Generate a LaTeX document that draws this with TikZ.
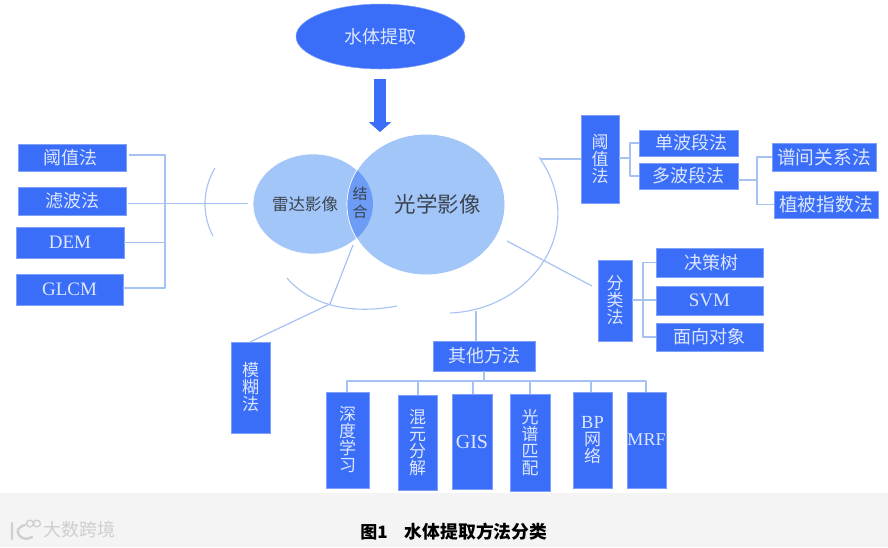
\documentclass[tikz,border=0pt]{standalone}
\usepackage{fontspec}
\setmainfont{Liberation Serif}
\newfontfamily\cjk{Noto Sans CJK SC}
\usetikzlibrary{arrows.meta,shapes.geometric}
\definecolor{boxblue}{HTML}{3A6DF8}
\definecolor{boxtext}{HTML}{DCE7FF}
\definecolor{linkblue}{HTML}{A6C2F2}
\definecolor{softblue}{HTML}{A3C6F9}
\definecolor{lensblue}{HTML}{6C9CF6}
\definecolor{band}{HTML}{F4F4F4}
\definecolor{darktext}{HTML}{3A4450}
\definecolor{markgray}{HTML}{CFCFCF}
\tikzset{
  bluebox/.style={fill=boxblue,draw=boxblue!65!white,line width=0.5pt,inner sep=0pt,text=boxtext,align=center,font=\cjk\fontsize{18}{19}\selectfont},
  tallbox/.style={bluebox,font=\cjk\fontsize{17}{17}\selectfont},
  latinbox/.style={bluebox,font=\fontsize{19}{17}\selectfont},
  conn/.style={draw=linkblue,line width=1.2pt,line join=round},
  softarc/.style={draw=linkblue,line width=1.1pt},
}
\newcommand{\bx}[7][bluebox]{%
  \pgfmathsetmacro{\bxw}{#5-#3}\pgfmathsetmacro{\bxh}{#6-#4}%
  \pgfmathsetmacro{\bxcx}{(#3+#5)/2}\pgfmathsetmacro{\bxcy}{(#4+#6)/2}%
  \node[#1,minimum width=\bxw pt,minimum height=\bxh pt] (#2) at (\bxcx,\bxcy) {#7};}
\newcommand{\up}[1]{\raisebox{1pt}{#1}}
\begin{document}
\begin{tikzpicture}[x=1pt,y=-1pt]
\useasboundingbox (0,0) rectangle (888,547);
\fill[white] (0,0) rectangle (888,547);
\fill[band] (0,493) rectangle (888,547);

% top
\node[ellipse,fill=boxblue,draw=boxblue!65!white,line width=0.5pt,minimum width=169pt,minimum height=65pt,inner sep=0pt,text=boxtext,font=\cjk\fontsize{18}{19}\selectfont] (top) at (380.5,36.5) {水体提取};
\coordinate (arS) at (380,79);
\coordinate (arE) at (380,132);
\draw[draw=boxblue,line width=12pt,-{Triangle[width=22pt,length=10pt]}] (arS) -- (arE);

% venn
\node[ellipse,fill=softblue,draw=white,line width=0.6pt,minimum width=120pt,minimum height=100pt,inner sep=0pt] (radar) at (313,204) {};
\node[ellipse,fill=softblue,draw=white,line width=0.6pt,minimum width=158pt,minimum height=141pt,inner sep=0pt] (optical) at (426,204.5) {};
\begin{scope}
  \clip (313,204) ellipse [x radius=60pt,y radius=50pt];
  \fill[lensblue] (426,204.5) ellipse [x radius=79pt,y radius=70.5pt];
\end{scope}
\draw[white,line width=0.6pt] (426,204.5) ellipse [x radius=79pt,y radius=70.5pt];
\node[text=darktext,font=\cjk\fontsize{16.5}{17}\selectfont] (radarT) at (305,204) {雷达影像};
\node[text=darktext,align=center,font=\cjk\fontsize{15}{18}\selectfont] (lensT) at (360,203) {结\\合};
\node[text=darktext,font=\cjk\fontsize{21.5}{22}\selectfont] (optT) at (437.5,204) {光学影像};

% left group
\bx{la}{18}{144}{126}{171}{\hspace*{-4pt}阈值法}
\bx{lb}{18}{187}{126}{215}{滤波法}
\bx[latinbox]{lc}{16}{227}{124}{258}{\up{DEM}}
\bx[latinbox]{ld}{16}{274}{123}{305}{\up{GLCM}}
\coordinate (busTop) at (165,155);
\coordinate (busBot) at (165,288);
\coordinate (lbEnd) at (248,203.5);
\coordinate (laStart) at (129,155);
\coordinate (lbStart) at (128,203.5);
\draw[conn] (laStart) -- (busTop) -- (busBot) -- (ld.east |- busBot);
\draw[conn] (lbStart) -- (lbEnd);
\draw[conn] (lc.east) -- (lc.east -| busTop);
\draw[softarc] (215,168) .. controls (202,190) and (202,215) .. (213,236);

% fuzzy
\bx[tallbox]{mo}{231}{342}{270}{433}{模\\糊\\法}
\coordinate (moKnee) at (330,304);
\coordinate (moStart) at (353,245);
\draw[conn] (moStart) -- (moKnee) -- (mo.north);
\draw[softarc] (287,278) .. controls (310,305) and (350,315) .. (397,306);

% right threshold
\bx[tallbox]{ra}{581}{115}{619}{203}{阈\\值\\法}
\bx{rb}{639}{130}{738}{156}{\hspace*{6pt}单波段法}
\bx{rc}{639}{163}{738}{189}{多波段法}
\bx[bluebox,font=\cjk\fontsize{18.7}{19}\selectfont]{rd}{772}{143}{876}{171}{谱间关系法}
\bx[bluebox,font=\cjk\fontsize{18.7}{19}\selectfont]{re}{774}{191}{878}{218}{植被指数法}
\coordinate (arcTop) at (540,159);
\draw[conn] (arcTop) -- (ra.west |- arcTop);
\draw[softarc] (539,157) .. controls (590,230) and (530,310) .. (450,313);
\coordinate (raJ) at (630,158);
\draw[conn] (ra.east |- raJ) -- (raJ);
\draw[conn] (rb.west) -| (raJ) |- (rc.west);
\coordinate (rcJ) at (757,180);
\draw[conn] (rc.east |- rcJ) -- (rcJ);
\draw[conn] (rd.west) -| (rcJ) |- (re.west);

% classification
\bx[tallbox]{fa}{598}{260}{632}{341}{分\\类\\法}
\bx{fb}{656}{248}{763}{277}{\hspace*{4pt}决策树}
\bx[latinbox]{fc}{656}{286}{763}{315}{\up{SVM}}
\bx{fd}{656}{323}{763}{351}{面向对象}
\coordinate (faS) at (507,241);
\coordinate (faE) at (592,286);
\draw[conn] (faS) -- (faE);
\coordinate (faJ) at (643,300);
\draw[conn] (fa.east |- faJ) -- (fc.west |- faJ);
\draw[conn] (fb.west) -| (faJ) |- (fd.west);

% others
\bx{oa}{433}{341}{535}{371}{其他方法}
\coordinate (oaTop) at (476,311);
\draw[conn] (oaTop) -- (oaTop |- oa.north);
\bx[tallbox]{c1}{326}{392}{369}{488}{深\\度\\学\\习}
\bx[tallbox]{c2}{398}{395}{437}{490}{混\\元\\分\\解}
\bx[bluebox,font=\fontsize{20}{17}\selectfont]{c3}{452}{394}{492}{489}{GIS}
\bx[tallbox]{c4}{510}{394}{550}{491}{光\\谱\\匹\\配}
\bx[tallbox]{c5}{573}{392}{612}{488}{{\fontspec{Liberation Serif}\fontsize{18.5}{17}\selectfont BP}\\网\\络}
\bx[bluebox,font=\fontsize{18}{17}\selectfont]{c6}{627}{392}{666}{488}{MRF}
\coordinate (oaBus) at (484,381);
\coordinate (oaFoot) at (484,371);
\draw[conn] (oaFoot) -- (oaBus);
\draw[conn] (347,392) |- (646,381) -- (646,392);
\coordinate (d2) at (418,381); \coordinate (d3) at (473,381);
\coordinate (d4) at (530,381); \coordinate (d5) at (591,381);
\draw[conn] (d2) -- (d2 |- c2.north);
\draw[conn] (d3) -- (d3 |- c3.north);
\draw[conn] (d4) -- (d4 |- c4.north);
\draw[conn] (d5) -- (d5 |- c5.north);

% footer
\node[font=\cjk\bfseries\fontsize{17}{18}\selectfont,text=black] (cap1) at (374,532) {图1};
\node[font=\cjk\bfseries\fontsize{17.8}{18}\selectfont,text=black] (cap2) at (476,532) {水体提取方法分类};
\node[font=\cjk\fontsize{18}{19}\selectfont,text=markgray] (wm) at (79,530) {大数跨境};
\draw[markgray,line width=2.4pt,line cap=round] (12,523) -- (12,539) (25,525) .. controls (18,527) and (16,531) .. (19,535) .. controls (22,539) and (27,540) .. (32,537);
\draw[markgray,line width=1.3pt] (30,523.5) circle [radius=3.4pt] (37,523.5) circle [radius=3.4pt];
\end{tikzpicture}
\end{document}
